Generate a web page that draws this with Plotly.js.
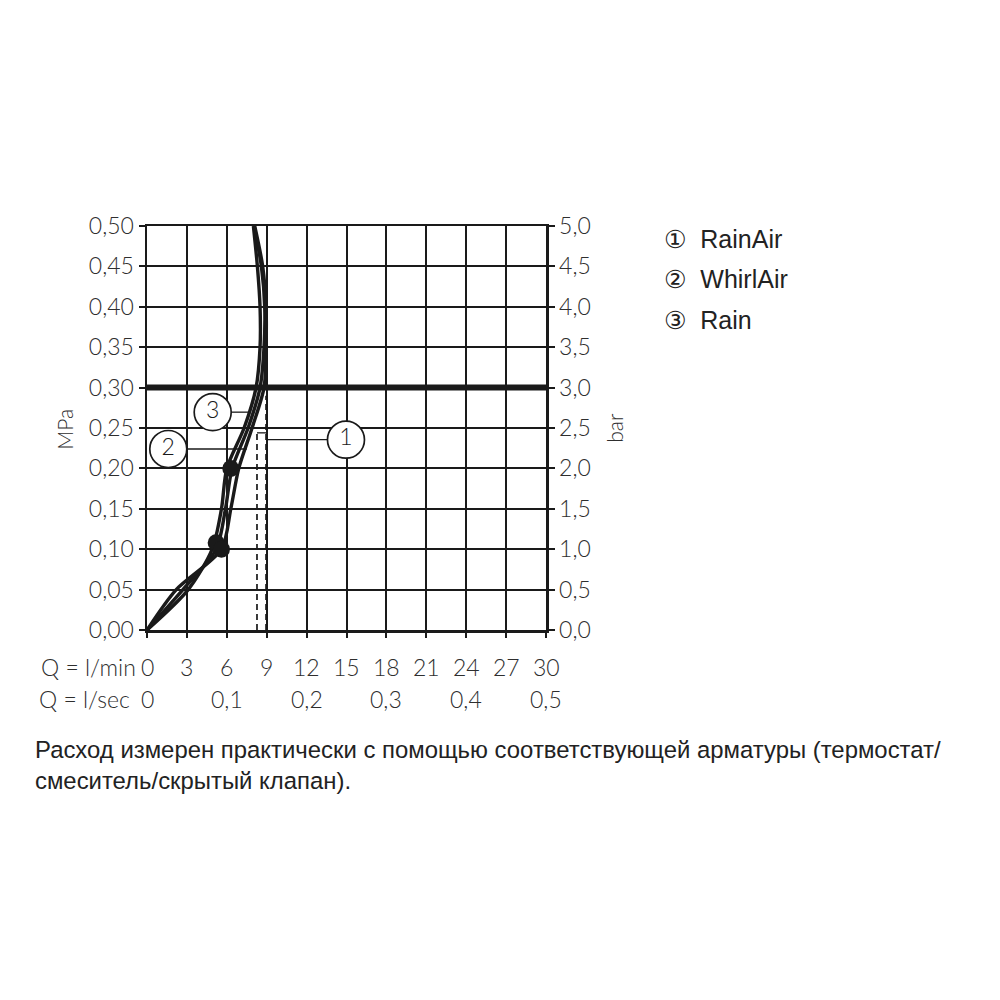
<!DOCTYPE html>
<html>
<head>
<meta charset="utf-8">
<script src="https://cdn.plot.ly/plotly-3.0.1.min.js"></script>
<style>html,body{margin:0;padding:0;background:#fff;}#chart{width:1000px;height:1000px;}</style>
</head>
<body>
<div id="chart"></div>
<script>
// ---- data ----
var pressureMPa = [0, 0.05, 0.10, 0.15, 0.20, 0.25, 0.30, 0.35, 0.40, 0.45, 0.50];
var flowRain     = [0, 3.1, 4.9, 5.6, 6.0, 7.3, 8.2, 8.5, 8.5, 8.3, 8.0];
var flowWhirlAir = [0, 2.7, 5.2, 5.9, 6.4, 7.6, 8.5, 8.8, 8.85, 8.6, 8.05];
var flowRainAir  = [0, 2.2, 5.6, 6.3, 6.9, 7.9, 8.8, 8.95, 8.95, 8.7, 8.1];

var dotFlow = [6.3, 5.2, 5.6];
var dotPressure = [0.20, 0.108, 0.10];

var refPressure = 0.30;
var dashFlow = [8.27, 8.95];
var dashTop = [0.244, 0.29];

var labelNums = ["1", "2", "3"];
var labelFlow = [14.96, 1.6, 4.94];
var labelPressure = [0.2355, 0.224, 0.2696];
var leaderStart = [9.0, 3.0, 6.2];
var leaderEnd = [13.6, 7.5, 7.7];

var lminTicks = [0, 3, 6, 9, 12, 15, 18, 21, 24, 27, 30];
var lsecTickPos = [0, 6, 12, 18, 24, 30];
var lsecTickText = ["0", "0,1", "0,2", "0,3", "0,4", "0,5"];

var legendItems = ["\u2460  RainAir", "\u2461  WhirlAir", "\u2462  Rain"];
var caption1 = "Расход измерен практически с помощью соответствующей арматуры (термостат/";
var caption2 = "смеситель/скрытый клапан).";

// ---- build ----
var FONT = "Lato, 'Open Sans', 'DejaVu Sans', sans-serif";
var INK = "#1a1a1a";
var TXT = "#2e2e2e";
var traces = [];
[flowRain, flowWhirlAir, flowRainAir].forEach(function (f) {
  traces.push({x: f, y: pressureMPa, type: "scatter", mode: "lines",
    line: {color: INK, width: 3.4, shape: "spline", smoothing: 0.8},
    hoverinfo: "skip", showlegend: false});
});
traces.push({x: dotFlow, y: dotPressure, type: "scatter", mode: "markers",
  marker: {color: INK, size: 17}, showlegend: false, hoverinfo: "skip"});
traces.push({x: [0, 30], y: [refPressure, refPressure], type: "scatter", mode: "lines",
  line: {color: INK, width: 6}, showlegend: false, hoverinfo: "skip"});
dashFlow.forEach(function (fx, i) {
  traces.push({x: [fx, fx], y: [0, dashTop[i]], type: "scatter", mode: "lines",
    line: {color: INK, width: 1.7, dash: "6px,4px"}, showlegend: false, hoverinfo: "skip"});
});
traces.push({x: dashFlow, y: [dashTop[0], dashTop[0]], type: "scatter", mode: "lines",
  line: {color: INK, width: 1.3}, showlegend: false, hoverinfo: "skip"});
labelNums.forEach(function (n, i) {
  traces.push({x: [leaderStart[i], leaderEnd[i]], y: [labelPressure[i], labelPressure[i]],
    type: "scatter", mode: "lines", line: {color: INK, width: 1.3},
    showlegend: false, hoverinfo: "skip"});
});
traces.push({x: labelFlow, y: labelPressure, text: labelNums, type: "scatter",
  mode: "markers+text", textposition: "middle center",
  textfont: {family: FONT, size: 23, color: INK, weight: 300},
  marker: {symbol: "circle", size: 37, color: "#fff", line: {color: INK, width: 1.7}},
  showlegend: false, hoverinfo: "skip"});
traces.push({x: [0], y: [0], yaxis: "y2", type: "scatter", mode: "markers",
  marker: {opacity: 0}, showlegend: false, hoverinfo: "skip"});

var W = 399, H = 404.5;
function px2paperX(p) { return (p - 147) / W; }
function px2paperY(p) { return (630.5 - p) / H; }
var tickFont = {family: FONT, size: 23, color: TXT, weight: 300};

var ann = [];
lminTicks.forEach(function (t) {
  ann.push({x: t, xref: "x", y: 0, yref: "paper", yshift: -37, yanchor: "middle",
    xanchor: "center", text: String(t), showarrow: false, font: tickFont});
});
lsecTickPos.forEach(function (t, i) {
  ann.push({x: t, xref: "x", y: 0, yref: "paper", yshift: -69, yanchor: "middle",
    xanchor: "center", text: lsecTickText[i], showarrow: false, font: tickFont});
});
ann.push({x: px2paperX(138), xref: "paper", y: 0, yref: "paper", yshift: -37, yanchor: "middle",
  xanchor: "right", text: "Q = l/min", showarrow: false, font: tickFont});
ann.push({x: px2paperX(132), xref: "paper", y: 0, yref: "paper", yshift: -69, yanchor: "middle",
  xanchor: "right", text: "Q = l/sec", showarrow: false, font: tickFont});
ann.push({x: px2paperX(65), xref: "paper", y: px2paperY(430), yref: "paper", textangle: -90,
  xanchor: "center", yanchor: "middle", text: "MPa", showarrow: false,
  font: {family: FONT, size: 21, color: TXT, weight: 300}});
ann.push({x: px2paperX(615), xref: "paper", y: px2paperY(428), yref: "paper", textangle: -90,
  xanchor: "center", yanchor: "middle", text: "bar", showarrow: false,
  font: {family: FONT, size: 21, color: TXT, weight: 300}});
var legY = [239, 279, 320];
legendItems.forEach(function (t, i) {
  ann.push({x: px2paperX(662), xref: "paper", y: px2paperY(legY[i]), yref: "paper",
    xanchor: "left", yanchor: "middle", text: t, showarrow: false,
    font: {family: "'Liberation Sans', Arial, 'DejaVu Sans', sans-serif", size: 25, color: "#222"}});
});
var capFont = {family: "'Liberation Sans', Arial, sans-serif", size: 23.9, color: "#222"};
ann.push({x: px2paperX(33), xref: "paper", y: px2paperY(750), yref: "paper",
  xanchor: "left", yanchor: "middle", text: caption1, showarrow: false, font: capFont});
ann.push({x: px2paperX(33), xref: "paper", y: px2paperY(781), yref: "paper",
  xanchor: "left", yanchor: "middle", text: caption2, showarrow: false, font: capFont});

var layout = {
  width: 1000, height: 1000,
  margin: {l: 147, r: 454, t: 226, b: 369.5, pad: 0},
  paper_bgcolor: "#fff", plot_bgcolor: "#fff",
  separators: ",.",
  showlegend: false,
  font: {family: FONT, color: TXT},
  xaxis: {range: [0, 30], dtick: 3, tick0: 0, showgrid: true, gridcolor: INK, gridwidth: 2,
    showline: true, linecolor: INK, linewidth: 2.5, mirror: true, zeroline: false,
    ticks: "outside", ticklen: 5, tickwidth: 2, tickcolor: INK, showticklabels: false, fixedrange: true},
  yaxis: {range: [0, 0.5], dtick: 0.05, tick0: 0, tickformat: ".2f", showgrid: true,
    gridcolor: INK, gridwidth: 2, showline: true, linecolor: INK, linewidth: 2.5, zeroline: false,
    ticks: "outside", ticklen: 6, tickwidth: 2, tickcolor: INK, tickfont: tickFont, fixedrange: true},
  yaxis2: {range: [0, 5], dtick: 0.5, tick0: 0, tickformat: ".1f", overlaying: "y", side: "right",
    showgrid: false, showline: true, linecolor: INK, linewidth: 2.5, zeroline: false,
    ticks: "outside", ticklen: 6, tickwidth: 2, tickcolor: INK, tickfont: tickFont, fixedrange: true},
  annotations: ann
};
Plotly.newPlot("chart", traces, layout, {staticPlot: true, displayModeBar: false});
</script>
</body>
</html>
